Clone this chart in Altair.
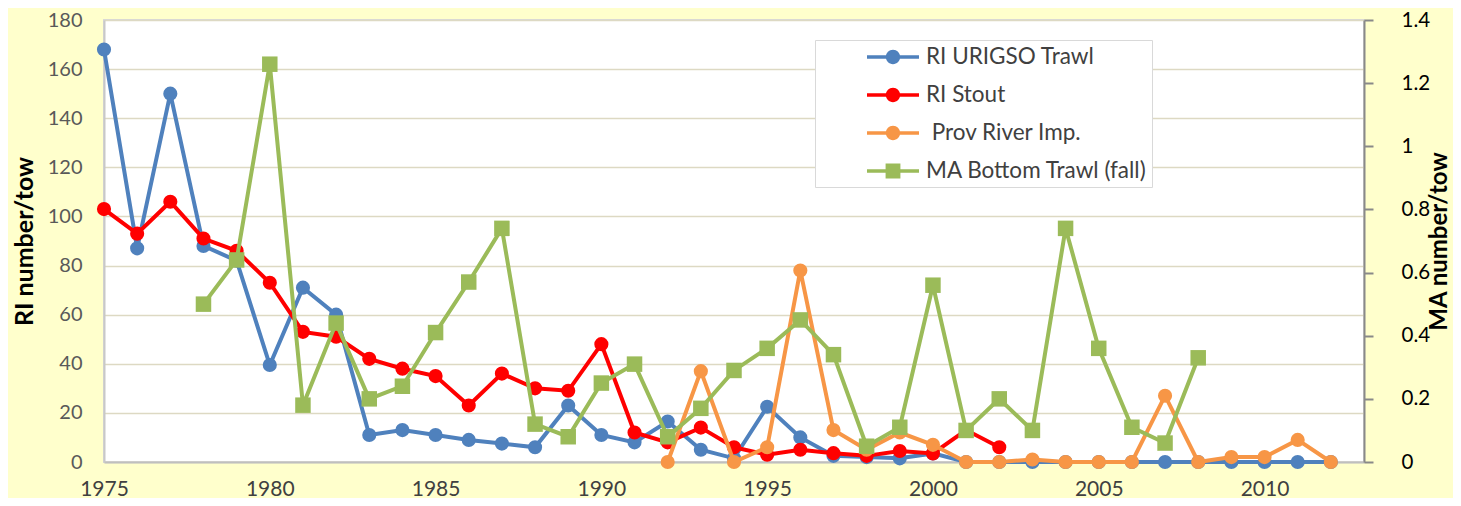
import altair as alt
import pandas as pd

# ---- data ----
years_blue = list(range(1975, 2013))
blue = [168, 87, 150, 88, 82, 39.5, 71, 60, 11, 13, 11, 9, 7.5, 6, 23, 11, 8, 16.5, 5, 1.5,
        22.5, 10, 2.5, 2, 1.5, 3.5, 0, 0, 0, 0, 0, 0, 0, 0, 0, 0, 0, 0]
years_red = list(range(1975, 2003))
red = [103, 93, 106, 91, 86, 73, 53, 51, 42, 38, 35, 23, 36, 30, 29, 48, 12, 8, 14, 6,
       3, 5, 3.6, 2.5, 4.5, 3.5, 13, 6]
years_orange = list(range(1992, 2013))
orange = [0, 37, 0, 6, 78, 13, 5, 12, 7, 0, 0, 1, 0, 0, 0, 27, 0, 2, 2, 9, 0]
years_green = list(range(1978, 2009))
green = [0.5, 0.64, 1.26, 0.18, 0.44, 0.20, 0.24, 0.41, 0.57, 0.74, 0.12, 0.08, 0.25, 0.31,
         0.08, 0.17, 0.29, 0.36, 0.45, 0.34, 0.05, 0.11, 0.56, 0.10, 0.20, 0.10, 0.74, 0.36,
         0.11, 0.06, 0.33]

names = ["RI URIGSO Trawl", "RI Stout", "\u200b\u00a0Prov River Imp.", "MA Bottom Trawl (fall)"]
colors = ["#4F81BD", "#FF0000", "#F79646", "#9BBB59"]
x_ticks = [1975, 1980, 1985, 1990, 1995, 2000, 2005, 2010]
left_ticks = [0, 20, 40, 60, 80, 100, 120, 140, 160, 180]
right_ticks = [0, 0.2, 0.4, 0.6, 0.8, 1.0, 1.2, 1.4]

# legend symbols: line with circle / square marker
circ = "M-2,-0.14 L2,-0.14 L2,0.14 L-2,0.14 Z M0.55,0 A0.55,0.55 0 1,1 -0.55,0 A0.55,0.55 0 1,1 0.55,0 Z"
sq = "M-2,-0.14 L2,-0.14 L2,0.14 L-2,0.14 Z M-0.57,-0.57 L0.57,-0.57 L0.57,0.57 L-0.57,0.57 Z"
legend_shapes = [circ, circ, circ, sq]

rows = []
for name, ys, vs in [(names[0], years_blue, blue), (names[1], years_red, red),
                     (names[2], years_orange, orange), (names[3], years_green, green)]:
    for y, v in zip(ys, vs):
        rows.append({"year": y, "value": v, "series": name})
df = pd.DataFrame(rows)

FONT = "Lato"
base = alt.Chart(df)

x_enc = alt.X(
    "year:Q",
    scale=alt.Scale(domain=[1975, 2013], nice=False, zero=False),
    axis=alt.Axis(values=x_ticks, format="d", title=None, grid=False, ticks=False,
                  domainColor="#bfbfbf", domainWidth=2, labelFontSize=21,
                  labelColor="#404040", labelPadding=16, labelFlush=False, labelFont=FONT),
)

yL = alt.Y(
    "value:Q",
    scale=alt.Scale(domain=[0, 180], nice=False, zero=True),
    axis=alt.Axis(values=left_ticks, format="d", title="RI number/tow", orient="left",
                  grid=True, gridColor="#ddd9c3", gridWidth=1.5, ticks=False,
                  domainColor="#c8c8c8", domainWidth=2, labelFontSize=20,
                  labelColor="#595959", labelPadding=22, labelFont=FONT,
                  titleFont=FONT, titleFontSize=25, titleFontWeight="bold",
                  titleColor="#000000", titlePadding=10),
)

yR = alt.Y(
    "value:Q",
    scale=alt.Scale(domain=[0, 1.4], nice=False, zero=True),
    axis=alt.Axis(values=right_ticks, format="~g", title="MA number/tow", orient="right",
                  grid=False, ticks=True, tickSize=9, tickColor="#898989", tickWidth=2,
                  domainColor="#898989", domainWidth=2, labelFontSize=20.5,
                  labelColor="#000000", labelPadding=28, labelFont=FONT,
                  titleFont=FONT, titleFontSize=24, titleFontWeight="bold",
                  titleColor="#000000", titlePadding=22, titleAngle=270),
)


def series_layers(name, col, shape, size, yenc):
    d = base.transform_filter(alt.datum.series == name)
    line = d.mark_line(strokeWidth=4, color=col).encode(x=x_enc, y=yenc)
    pts = d.mark_point(filled=True, shape=shape, size=size, opacity=1, color=col).encode(
        x=x_enc, y=yenc)
    return [line, pts]


legend_def = alt.Legend(
    title=None, orient="none", legendX=711, legendY=20, fillColor="#ffffff",
    strokeColor="#d9d9d9", padding=4, symbolOffset=61, labelOffset=20,
    symbolSize=676, rowPadding=13, labelFontSize=22.5, labelColor="#404040",
    labelFont=FONT, symbolStrokeWidth=0, labelLimit=400, symbolOpacity=1,
)
legend_layer = base.mark_point(filled=True, opacity=0).encode(
    x=x_enc, y=yL,
    color=alt.Color("series:N", scale=alt.Scale(domain=names, range=colors), legend=legend_def),
    shape=alt.Shape("series:N", scale=alt.Scale(domain=names, range=legend_shapes),
                    legend=legend_def),
)

left = alt.layer(
    *series_layers(names[0], colors[0], "circle", 200, yL),
    *series_layers(names[1], colors[1], "circle", 200, yL),
    *series_layers(names[2], colors[2], "circle", 200, yL),
    legend_layer,
)
right = alt.layer(*series_layers(names[3], colors[3], "square", 240, yR))

chart = (
    alt.layer(left, right)
    .resolve_scale(y="independent")
    .properties(
        width=1260, height=442,
        autosize=alt.AutoSizeParams(type="none"),
        padding={"left": 96, "top": 12, "right": 89, "bottom": 36},
        background="#FFFFCC",
    )
    .configure(font=FONT)
    .configure_view(fill="#ffffff", stroke="#d9d9d9", strokeWidth=2)
)

chart.save("out.html", embed_options={"renderer": "svg", "actions": False})
